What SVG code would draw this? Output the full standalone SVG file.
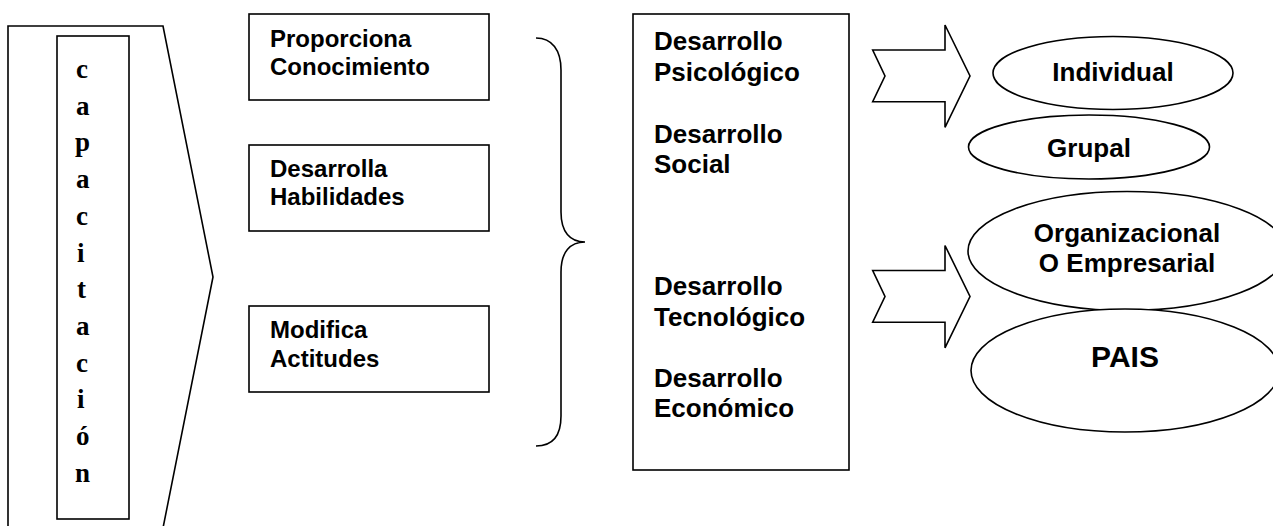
<svg xmlns="http://www.w3.org/2000/svg" width="1273" height="526" viewBox="0 0 1273 526">
<style>
.shape{fill:#fff;stroke:#000;stroke-width:1.6}
.brace{fill:none;stroke:#000;stroke-width:1.6}
.lbl{font-family:"Liberation Sans",Arial,sans-serif;font-weight:bold;font-size:24px;fill:#000}
.rlbl{font-family:"Liberation Sans",Arial,sans-serif;font-weight:bold;font-size:26px;fill:#000}
.elbl{font-family:"Liberation Sans",Arial,sans-serif;font-weight:bold;font-size:26px;fill:#000;text-anchor:middle}
.vlbl{font-family:"Liberation Serif","Times New Roman",serif;font-weight:bold;font-size:27px;fill:#000}
</style>
<rect width="1273" height="526" fill="#fff"/>
<g id="capacitacion">
<polygon class="shape" points="8,26 163,26 213,277 163,528 8,528"/>
<rect class="shape" x="57" y="36" width="72" height="483"/>
<text class="vlbl" x="76" y="78">c</text>
<text class="vlbl" x="76" y="114.7">a</text>
<text class="vlbl" x="75" y="151.4">p</text>
<text class="vlbl" x="76" y="188.1">a</text>
<text class="vlbl" x="76" y="224.8">c</text>
<text class="vlbl" x="77" y="261.5">i</text>
<text class="vlbl" x="77" y="298.2">t</text>
<text class="vlbl" x="76" y="334.9">a</text>
<text class="vlbl" x="76" y="371.6">c</text>
<text class="vlbl" x="77" y="408.3">i</text>
<text class="vlbl" x="76" y="445">ó</text>
<text class="vlbl" x="75" y="481.7">n</text>
</g>
<g id="proporciona">
<rect class="shape" x="249" y="14" width="240" height="86"/>
<text class="lbl" x="270" y="47">Proporciona</text>
<text class="lbl" x="270" y="74.5">Conocimiento</text>
</g>
<g id="desarrolla">
<rect class="shape" x="249" y="145" width="240" height="86"/>
<text class="lbl" x="270" y="177">Desarrolla</text>
<text class="lbl" x="270" y="205">Habilidades</text>
</g>
<g id="modifica">
<rect class="shape" x="249" y="306" width="240" height="86"/>
<text class="lbl" x="270" y="338">Modifica</text>
<text class="lbl" x="270" y="366.5">Actitudes</text>
</g>
<g id="connectors">
<path class="brace" d="M536,38 C552,38 561,50 561,70 L561,212 C561,232 570,242 585,242 C570,242 561,252 561,272 L561,416 C561,436 552,446 536,446"/>
<polygon class="shape" points="872.7,50 945,50 945,25 970,76 945,127.3 945,101.7 872.7,101.7 885,76"/>
<polygon class="shape" points="872.7,270.5 945,270.5 945,245.5 970,296.5 945,347.8 945,322.2 872.7,322.2 885,296.5"/>
</g>
<g id="desarrollos">
<rect class="shape" x="633" y="14" width="216" height="456"/>
<text class="rlbl" x="654" y="50">Desarrollo</text>
<text class="rlbl" x="654" y="81">Psicológico</text>
<text class="rlbl" x="654" y="142.7">Desarrollo</text>
<text class="rlbl" x="654" y="172.7">Social</text>
<text class="rlbl" x="654" y="295">Desarrollo</text>
<text class="rlbl" x="654" y="326">Tecnológico</text>
<text class="rlbl" x="654" y="386.7">Desarrollo</text>
<text class="rlbl" x="654" y="416.7">Económico</text>
</g>
<g id="individual">
<ellipse class="shape" cx="1113" cy="73" rx="120" ry="36.5"/>
<text class="elbl" x="1113" y="81">Individual</text>
</g>
<g id="grupal">
<ellipse class="shape" cx="1089" cy="147" rx="120.5" ry="32"/>
<text class="elbl" x="1089" y="157">Grupal</text>
</g>
<g id="organizacional">
<ellipse class="shape" cx="1127" cy="251" rx="159" ry="59.5"/>
<text class="elbl" x="1127" y="242">Organizacional</text>
<text class="elbl" x="1127" y="272">O Empresarial</text>
</g>
<g id="pais">
<ellipse class="shape" cx="1125" cy="370.5" rx="154" ry="61.5"/>
<text class="elbl" x="1125" y="367" style="font-size:30px">PAIS</text>
</g>
</svg>
